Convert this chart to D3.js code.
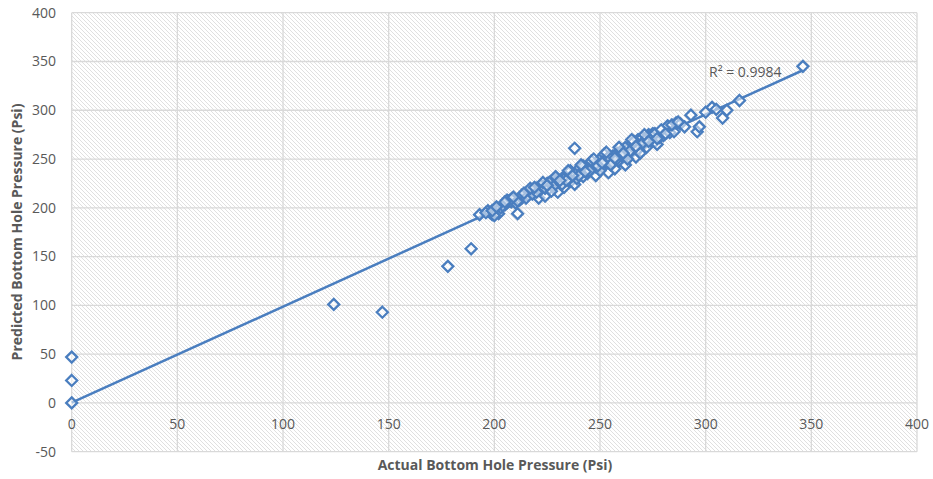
<!DOCTYPE html>
<html><head><meta charset="utf-8">
<script src="https://cdn.jsdelivr.net/npm/d3@7/dist/d3.min.js"></script>
<style>body{margin:0;background:#fff}svg{display:block}</style>
</head><body><svg id="c" width="933" height="479"></svg>
<script>
const xTicks=[0,50,100,150,200,250,300,350,400];
const yTicks=[-50,0,50,100,150,200,250,300,350,400];
const actual=[0,0,0,124,147,178,189,211,238,
193,197,198,199,200,201,202,200,203,205,206,207,208,209,210,212,213,214,215,216,217,218,219,220,221,222,223,224,225,226,227,228,229,230,231,232,233,234,235,236,237,238,239,240,241,242,243,244,245,246,247,248,249,250,251,252,253,254,255,256,257,258,259,260,261,262,263,264,265,266,267,268,269,270,271,272,273,274,275,276,277,278,280,282,283,285,286,288,290,293,296,297,300,303,305,308,310,316,346,
196,199,204,206,208,211,213,215,218,220,222,224,226,228,230,232,234,236,238,240,242,244,246,248,250,252,254,256,258,260,262,264,266,268,270,272,274,276,279,281,284,287,
217,223,229,235,241,247,253,259,265,271,227,245,255,263,269,
201,205,209,214,219,225,231,237,243,249,251,257,261,267,273,277];
const predicted=[47,23,0,101,93,140,158,194,261,
193,197,195,193,196,199,194,192,200,203,205,207,206,208,205,208,210,212,214,213,216,218,215,220,210,219,222,212,225,220,223,228,230,216,225,230,221,232,236,227,234,224,230,240,236,232,241,235,245,239,244,233,247,250,242,255,246,236,250,253,240,256,248,258,252,244,260,255,266,262,252,270,264,272,266,262,275,270,276,268,265,272,274,284,277,278,287,286,283,295,278,283,298,303,301,292,300,310,345,
195,197,202,208,209,207,213,210,214,216,223,220,226,222,229,224,228,238,235,233,243,238,248,242,238,248,252,246,250,254,262,258,268,260,266,271,274,276,280,276,285,288,
220,226,232,238,244,250,257,262,270,275,217,238,244,250,256,
201,206,211,215,221,223,228,233,237,243,246,251,256,263,268,271];
const trendSlope=0.985, trendIntercept=0.2, trendRange=[0,346];
const r2Label="R² = 0.9984";

const svg=d3.select("#c");
const x=d3.scaleLinear().domain([0,400]).range([71.7,917]);
const y=d3.scaleLinear().domain([-50,400]).range([451.7,12.7]);
const blue="#4a7ebf", grid="#d9d9d9", txt="#595959";
const defs=svg.append("defs");
const pat=defs.append("pattern").attr("id","hatch").attr("patternUnits","userSpaceOnUse")
 .attr("width",4).attr("height",4);
pat.append("rect").attr("width",4).attr("height",4).attr("fill","#fff");
pat.append("path").attr("d","M-1,-1 L5,5 M-1,3 L1,5 M3,-1 L5,1").attr("stroke","#dcdcdc").attr("stroke-width",0.9);
svg.append("rect").attr("x",x(0)).attr("y",y(400)).attr("width",x(400)-x(0)).attr("height",y(-50)-y(400)).attr("fill","url(#hatch)");
svg.append("g").selectAll("line").data(xTicks).join("line")
 .attr("x1",d=>x(d)).attr("x2",d=>x(d)).attr("y1",y(400)).attr("y2",y(-50)).attr("stroke",grid).attr("stroke-width",1.3);
svg.append("g").selectAll("line").data(yTicks).join("line")
 .attr("y1",d=>y(d)).attr("y2",d=>y(d)).attr("x1",x(0)).attr("x2",x(400)).attr("stroke",grid).attr("stroke-width",1.3);
const font="'Open Sans', sans-serif";
svg.append("g").selectAll("text").data(yTicks).join("text")
 .attr("x",56).attr("y",d=>y(d)).attr("dy","0.35em").attr("text-anchor","end")
 .attr("font-family",font).attr("font-size",14).attr("fill",txt).text(d=>d);
svg.append("g").selectAll("text").data(xTicks).join("text")
 .attr("x",d=>x(d)).attr("y",y(0)+21).attr("dy","0.35em").attr("text-anchor","middle")
 .attr("font-family",font).attr("font-size",14).attr("fill",txt).text(d=>d);
svg.append("line").attr("x1",x(trendRange[0])).attr("y1",y(trendIntercept+trendSlope*trendRange[0]))
 .attr("x2",x(trendRange[1])).attr("y2",y(trendIntercept+trendSlope*trendRange[1]))
 .attr("stroke",blue).attr("stroke-width",2.5);
const pts=actual.map((a,i)=>[a,predicted[i]]);
svg.append("g").selectAll("path").data(pts).join("path")
 .attr("d",d=>{const cx=x(d[0]),cy=y(d[1]),r=5.5;return `M${cx},${cy-r}L${cx+r},${cy}L${cx},${cy+r}L${cx-r},${cy}Z`;})
 .attr("fill","#fff").attr("fill-opacity",0.5).attr("stroke",blue).attr("stroke-width",2.3);
svg.append("text").attr("x",709).attr("y",77).attr("font-family",font).attr("font-size",14).attr("fill",txt).text(r2Label);
svg.append("text").attr("x",495).attr("y",470).attr("text-anchor","middle").attr("font-family",font)
 .attr("font-size",14).attr("font-weight","bold").attr("fill",txt).text("Actual Bottom Hole Pressure (Psi)");
svg.append("text").attr("transform","translate(22,232) rotate(-90)").attr("text-anchor","middle").attr("font-family",font)
 .attr("font-size",14).attr("font-weight","bold").attr("fill",txt).text("Predicted Bottom Hole Pressure (Psi)");
</script></body></html>
